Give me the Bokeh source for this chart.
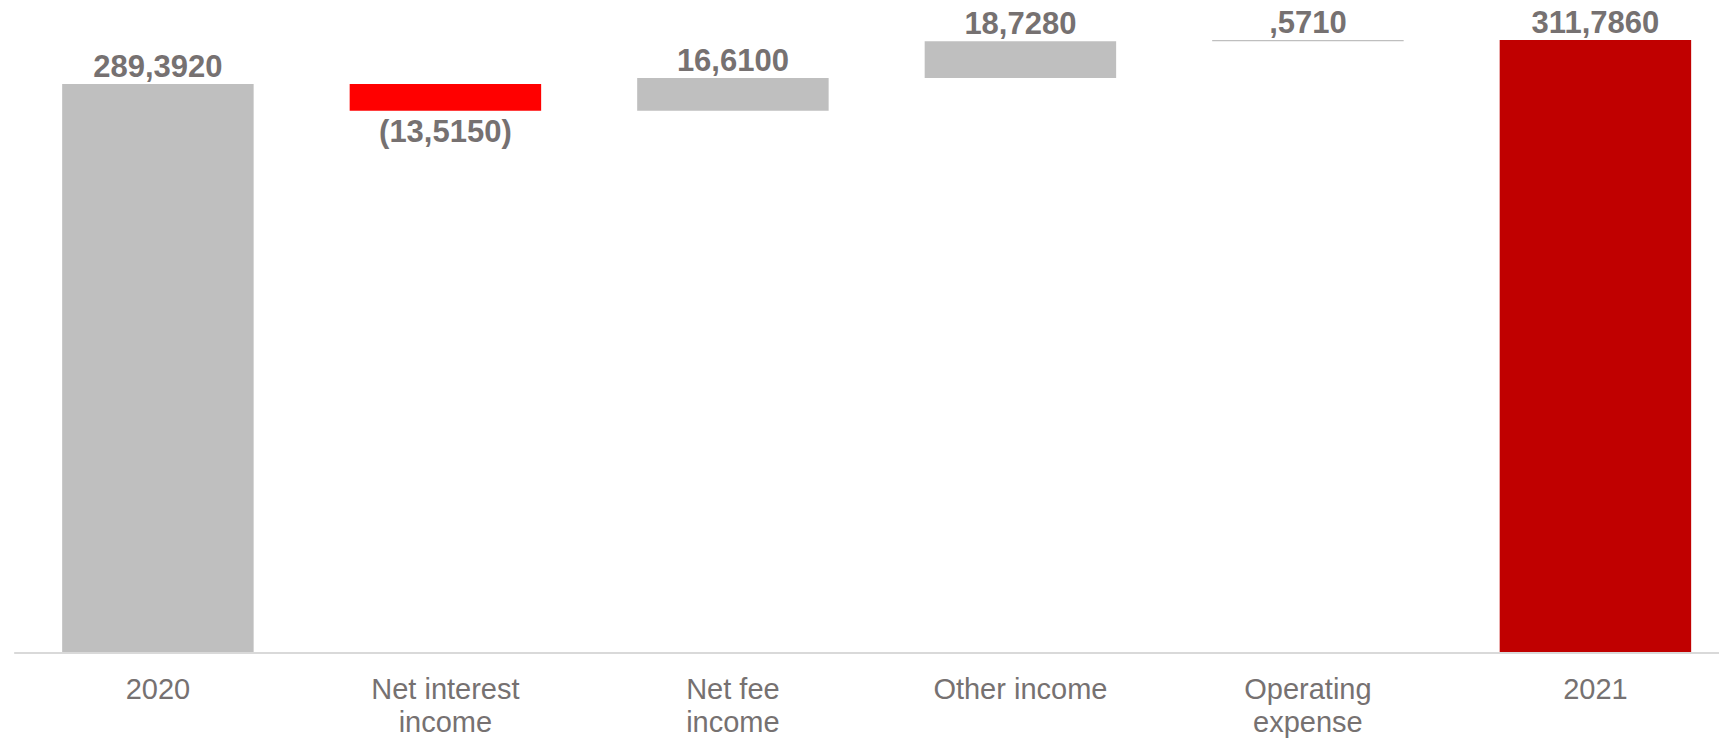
from bokeh.plotting import figure
from bokeh.models import Range1d, ColumnDataSource
from bokeh.core.properties import value
from bokeh.embed import file_html
from bokeh.resources import INLINE

# ---- data ----
categories = ["2020", "Net interest\nincome", "Net fee\nincome", "Other income", "Operating\nexpense", "2021"]
values = [289.392, -13.515, 16.61, 18.728, 0.571, 311.786]
kinds = ["total", "delta", "delta", "delta", "delta", "total"]

# ---- derived waterfall geometry ----
def fmt(v):
    s = f"{abs(v):.4f}".replace(".", ",")
    if s.startswith("0,"):
        s = s[1:]
    return f"({s})" if v < 0 else s

xs = list(range(len(categories)))
bottoms, tops, colors = [], [], []
running = 0.0
for i, (v, k) in enumerate(zip(values, kinds)):
    if k == "total":
        b, t = 0.0, v
        running = v
        colors.append("#C00000" if i == len(values) - 1 else "#BFBFBF")
    else:
        b, t = running, running + v
        running += v
        colors.append("#FF0000" if v < 0 else "#BFBFBF")
    bottoms.append(min(b, t))
    tops.append(max(b, t))

src = ColumnDataSource(dict(x=xs, top=tops, bottom=bottoms, color=colors))

p = figure(width=1719, height=739, x_range=Range1d(-0.5475, 5.4316),
           y_range=Range1d(-44.0, 331.91), output_backend="svg",
           toolbar_location=None, x_axis_location=None, y_axis_location=None,
           min_border=0)
p.grid.visible = False
p.outline_line_color = None
p.background_fill_color = "white"

p.vbar(x="x", width=0.666, top="top", bottom="bottom", fill_color="color",
       line_color=None, source=src)

# baseline axis line
p.segment(x0=[-0.5], y0=[0], x1=[p.x_range.end], y1=[0], line_color="#D9D9D9", line_width=2)

# value labels
pos_x, pos_y, pos_t = [], [], []
neg_x, neg_y, neg_t = [], [], []
for i, v in enumerate(values):
    if v >= 0:
        pos_x.append(xs[i]); pos_y.append(tops[i]); pos_t.append(fmt(v))
    else:
        neg_x.append(xs[i]); neg_y.append(bottoms[i]); neg_t.append(fmt(v))

lab_color = "#767171"
p.text(x=pos_x, y=pos_y, text=pos_t, text_align="center", text_baseline="middle",
       y_offset=-18.5, text_font=value("Liberation Sans"), text_font_style="bold",
       text_font_size="31px", text_color=lab_color)
p.text(x=neg_x, y=neg_y, text=neg_t, text_align="center", text_baseline="middle",
       y_offset=20.5, text_font=value("Liberation Sans"), text_font_style="bold",
       text_font_size="31px", text_color=lab_color)

# category labels (one glyph per line)
line1 = [c.split("\n")[0] for c in categories]
line2 = [c.split("\n")[1] if "\n" in c else "" for c in categories]
p.text(x=xs, y=[0] * len(xs), text=line1, text_align="center", text_baseline="middle",
       y_offset=36, text_font=value("Liberation Sans"), text_font_size="29px",
       text_color=lab_color)
p.text(x=xs, y=[0] * len(xs), text=line2, text_align="center", text_baseline="middle",
       y_offset=68.5, text_font=value("Liberation Sans"), text_font_size="29px",
       text_color=lab_color)

open("out.html", "w").write(file_html(p, INLINE))
